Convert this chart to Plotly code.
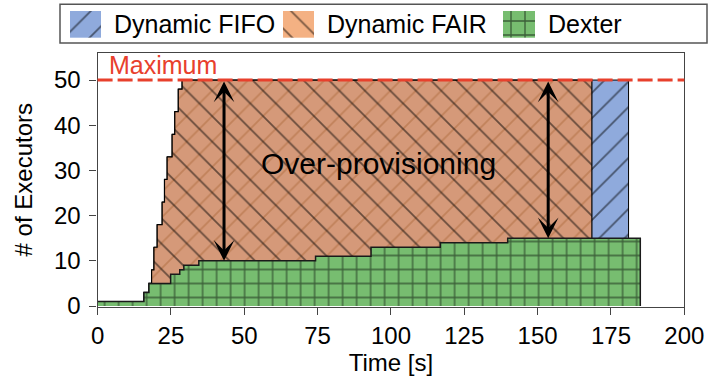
import plotly.graph_objects as go

# ---------------- data ----------------
ramp_t = [0, 15.8, 17.5, 18.4, 19.2, 20.3, 22.0, 22.8, 23.7, 25.4, 26.3, 27.5, 28.8]
ramp_v = [1, 3, 5, 8, 13, 18, 23, 28, 33, 38, 43, 48, 50]
fifo_t = ramp_t + [181.0]
fifo_v = ramp_v + [0]
fair_t = ramp_t + [168.5]
fair_v = ramp_v + [0]
dexter_t = [0, 15.8, 17.5, 24.9, 28.0, 29.4, 34.5, 74.3, 93.2, 116.8, 139.8, 185.0]
dexter_v = [1, 3, 5, 7, 8, 9, 10, 11, 13, 14, 15, 0]
max_executors = 50
arrow_t = [43.1, 153.6]
arrow_low = [10, 15]
x_ticks = [0, 25, 50, 75, 100, 125, 150, 175, 200]
y_ticks = [0, 10, 20, 30, 40, 50]
series_names = ["Dynamic FIFO", "Dynamic FAIR", "Dexter"]

FONT = "Liberation Sans, Arial, Helvetica, sans-serif"
BLUE = "#8faadc"
ORANGE_LEG = "#f4b183"
ORANGE_RGBA = "rgba(240,147,83,0.72)"
GREEN = "#77bd70"
RED = "#e8402c"
AXC = "#444444"

W, H = 710, 385


def px_x(x):  # window pixel -> paper fraction
    return x / W


def px_y(y):
    return (H - y) / H


fig = go.Figure()

# main area traces
fig.add_trace(go.Scatter(
    x=fifo_t, y=fifo_v, mode="lines", line=dict(shape="hv", color="black", width=1),
    fill="tozeroy", fillcolor=BLUE,
    fillpattern=dict(shape="/", bgcolor=BLUE, fgcolor="black", size=18, solidity=0.1),
    hoverinfo="skip", showlegend=False))
fig.add_trace(go.Scatter(
    x=fair_t, y=fair_v, mode="lines", line=dict(shape="hv", color="black", width=1.2),
    fill="tozeroy", fillcolor=ORANGE_RGBA,
    fillpattern=dict(shape="\\", bgcolor=ORANGE_RGBA, fgcolor="black", size=18, solidity=0.1),
    hoverinfo="skip", showlegend=False))
fig.add_trace(go.Scatter(
    x=dexter_t, y=dexter_v, mode="lines", line=dict(shape="hv", color="#1a1a1a", width=1.5),
    fill="tozeroy", fillcolor=GREEN,
    fillpattern=dict(shape="+", bgcolor=GREEN, fgcolor="black", size=14, solidity=0.18),
    hoverinfo="skip", showlegend=False))

# maximum line
fig.add_shape(type="line", xref="x domain", yref="y", x0=0, x1=1,
              y0=max_executors, y1=max_executors,
              line=dict(color=RED, width=3, dash="15px,5px"))
fig.add_annotation(x=3.2, y=53.3, xref="x", yref="y", text="Maximum", showarrow=False,
                   xanchor="left", yanchor="middle", font=dict(family=FONT, size=25, color=RED))
fig.add_annotation(x=95.8, y=31.6, xref="x", yref="y", text="Over-provisioning", showarrow=False,
                   xanchor="center", yanchor="middle", font=dict(family=FONT, size=30, color="black"))

for t, lo in zip(arrow_t, arrow_low):
    fig.add_annotation(x=t, y=lo, ax=t, ay=max_executors, xref="x", yref="y", axref="x", ayref="y",
                       text="", showarrow=True, arrowside="end+start", arrowhead=3, startarrowhead=3,
                       arrowsize=1.15, startarrowsize=1.15, arrowwidth=3, arrowcolor="black",
                       standoff=0, startstandoff=0)

# ---------------- manual legend (x2/y2 use window-pixel units) ----------------
legend_patch_x = [[70, 101], [283, 314], [503, 535]]
legend_text_x = [112, 325, 546]
patch_styles = [
    dict(shape="/", bgcolor=BLUE, fgcolor="black", size=18, solidity=0.1),
    dict(shape="\\", bgcolor=ORANGE_LEG, fgcolor="black", size=18, solidity=0.1),
    dict(shape="+", bgcolor=GREEN, fgcolor="black", size=14, solidity=0.18),
]
patch_fill = [BLUE, ORANGE_LEG, GREEN]
for (x0, x1), st, fc in zip(legend_patch_x, patch_styles, patch_fill):
    fig.add_trace(go.Scatter(x=[x0, x1, x1, x0, x0], y=[11, 11, 37.7, 37.7, 11],
                             xaxis="x2", yaxis="y2", mode="lines", line=dict(width=0),
                             fill="toself", fillcolor=fc, fillpattern=st,
                             hoverinfo="skip", showlegend=False))
for tx, name in zip(legend_text_x, series_names):
    fig.add_annotation(x=tx, y=24, xref="x2", yref="y2", text=name, showarrow=False,
                       xanchor="left", yanchor="middle", font=dict(family=FONT, size=25, color="black"))
fig.add_shape(type="rect", xref="paper", yref="paper", x0=px_x(60), x1=px_x(707),
              y0=px_y(43), y1=px_y(4.3), line=dict(color="#555555", width=1.5),
              fillcolor="rgba(0,0,0,0)", layer="below")

ax_common = dict(showgrid=False, zeroline=False, showline=True, linecolor=AXC, linewidth=1.3,
                 mirror=True, ticks="outside", ticklen=7, tickwidth=1.3, tickcolor=AXC,
                 automargin=False,
                 tickfont=dict(family=FONT, size=24, color="black"))

fig.update_layout(
    width=W, height=H, margin=dict(l=0, r=0, t=0, b=0, autoexpand=False),
    paper_bgcolor="white", plot_bgcolor="white",
    font=dict(family=FONT, size=24, color="black"),
    xaxis=dict(range=[0, 200], domain=[px_x(97.6), px_x(684.3)], tickvals=x_ticks,
               title=dict(text="Time [s]", font=dict(family=FONT, size=24), standoff=4),
               anchor="y", **ax_common),
    yaxis=dict(range=[-0.2, 56.1], domain=[px_y(306.9), px_y(52.5)], tickvals=y_ticks,
               ticklabelstandoff=4,
               title=dict(text="# of Executors", font=dict(family=FONT, size=24), standoff=14),
               anchor="x", **ax_common),
    xaxis2=dict(range=[0, W], domain=[0, 1], visible=False, anchor="y2", fixedrange=True,
                automargin=False),
    yaxis2=dict(range=[45, 0], domain=[px_y(45), 1], visible=False, anchor="x2",
                fixedrange=True, automargin=False),
    showlegend=False,
)

fig.write_html("out.html", config={"displayModeBar": False},
               post_script="document.body.style.margin='0';document.body.style.padding='0';"
                           "document.documentElement.style.overflow='hidden';")
